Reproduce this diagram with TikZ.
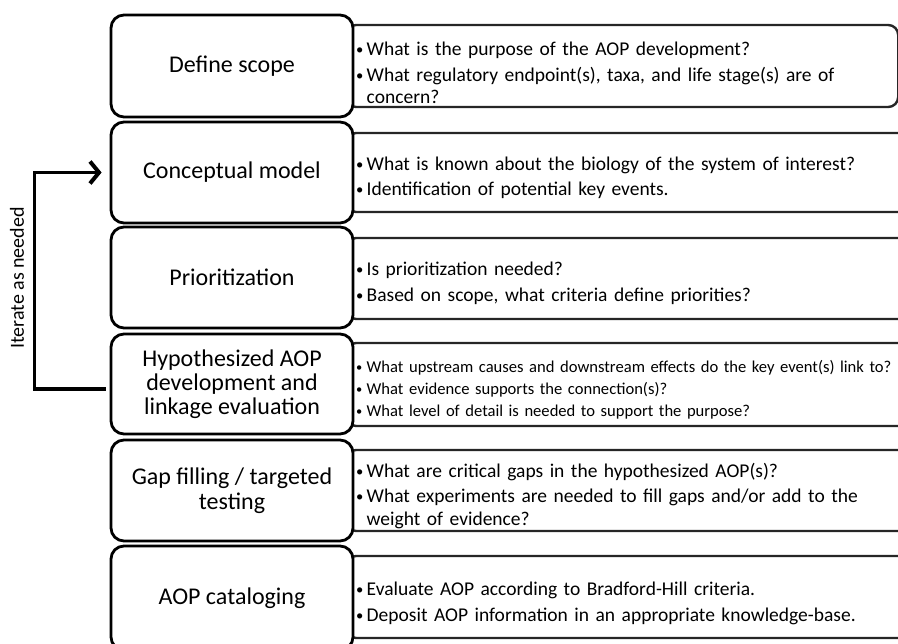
\documentclass[tikz,border=0pt]{standalone}
\usepackage{fontspec}
\setmainfont{Carlito}
\usetikzlibrary{arrows.meta}
\newcommand\bul[1]{\par\noindent\hangindent=10.5pt\hangafter=1\makebox[10.5pt][l]{\raisebox{1pt}{\scalebox{0.75}{•}}}#1}
\begin{document}
\begin{tikzpicture}[x=1pt,y=-1pt,
 lbox/.style={draw, line width=2.8pt, rounded corners=13pt, fill=white, minimum width=242pt, align=center, font=\fontsize{24}{25}\selectfont, inner sep=0pt},
 rbox/.style={draw=black!85, line width=2.4pt, rounded corners=10pt, fill=white, anchor=west, inner sep=0pt},
 rtext/.style={anchor=west, text width=540pt, inner sep=0pt, font=\fontsize{19.5}{22.5}\selectfont},
 stxt/.style={font=\fontsize{16.6}{20}\selectfont},
 loop/.style={line width=3.6pt, -{Straight Barb[length=9pt,width=22pt,line width=4pt]}, shorten >=8pt}]
\useasboundingbox (0,0) rectangle (898,644);
\begin{scope}
\clip (0,0) rectangle (898,644);
\node[rbox, minimum width=552pt, minimum height=82pt] (r1) at (345,66) {};
\node[rbox, minimum width=565pt, minimum height=79pt] (r2) at (345,172.5) {};
\node[rbox, minimum width=565pt, minimum height=81pt] (r3) at (345,278.5) {};
\node[rbox, minimum width=565pt, minimum height=83pt] (r4) at (345,384.5) {};
\node[rbox, minimum width=565pt, minimum height=81pt] (r5) at (345,490.5) {};
\node[rbox, minimum width=565pt, minimum height=82pt] (r6) at (345,597) {};
\node[lbox, minimum height=102pt] (l1) at (232,66) {Define scope};
\node[lbox, minimum height=101pt] (l2) at (232,172.5) {Conceptual model};
\node[lbox, minimum height=101pt] (l3) at (232,277.5) {Prioritization};
\node[lbox, minimum height=100pt, font=\fontsize{24}{24}\selectfont] (l4) at (232,384) {Hypothesized AOP\\development and\\linkage evaluation};
\node[lbox, minimum height=101pt] (l5) at (232,490.5) {Gap filling / targeted\\testing};
\node[lbox, minimum height=104pt] (l6) at (232,598) {AOP cataloging};
\end{scope}
\node[rtext] (t1) at (356,67) {\raggedright\setlength\parskip{3pt}\bul{What is the purpose of the AOP development?}\bul{What regulatory endpoint(s), taxa, and life stage(s) are of\newline concern?}\par};
\node[rtext] (t2) at (356,172) {\raggedright\setlength\parskip{3pt}\bul{What is known about the biology of the system of interest?}\bul{Identification of potential key events.}\par};
\node[rtext] (t3) at (356,277) {\raggedright\setlength\parskip{4pt}\bul{Is prioritization needed?}\bul{Based on scope, what criteria define priorities?}\par};
\node[rtext, stxt] (t4) at (356,385) {\raggedright\setlength\parskip{2pt}\bul{What upstream causes and downstream effects do the key event(s) link to?}\bul{What evidence supports the connection(s)?}\bul{What level of detail is needed to support the purpose?}\par};
\node[rtext] (t5) at (356,490) {\raggedright\setlength\parskip{3pt}\bul{What are critical gaps in the hypothesized AOP(s)?}\bul{What experiments are needed to fill gaps and/or add to the\newline weight of evidence?}\par};
\node[rtext] (t6) at (356,597) {\raggedright\setlength\parskip{4pt}\bul{Evaluate AOP according to Bradford-Hill criteria.}\bul{Deposit AOP information in an appropriate knowledge-base.}\par};
\draw[loop] (l4.west) ++(-4,5) -- ++(-71,0) |- (l2.west);
\node[rotate=90, font=\fontsize{20}{20}\selectfont] (lab) at (17,278) {Iterate as needed};
\end{tikzpicture}
\end{document}
